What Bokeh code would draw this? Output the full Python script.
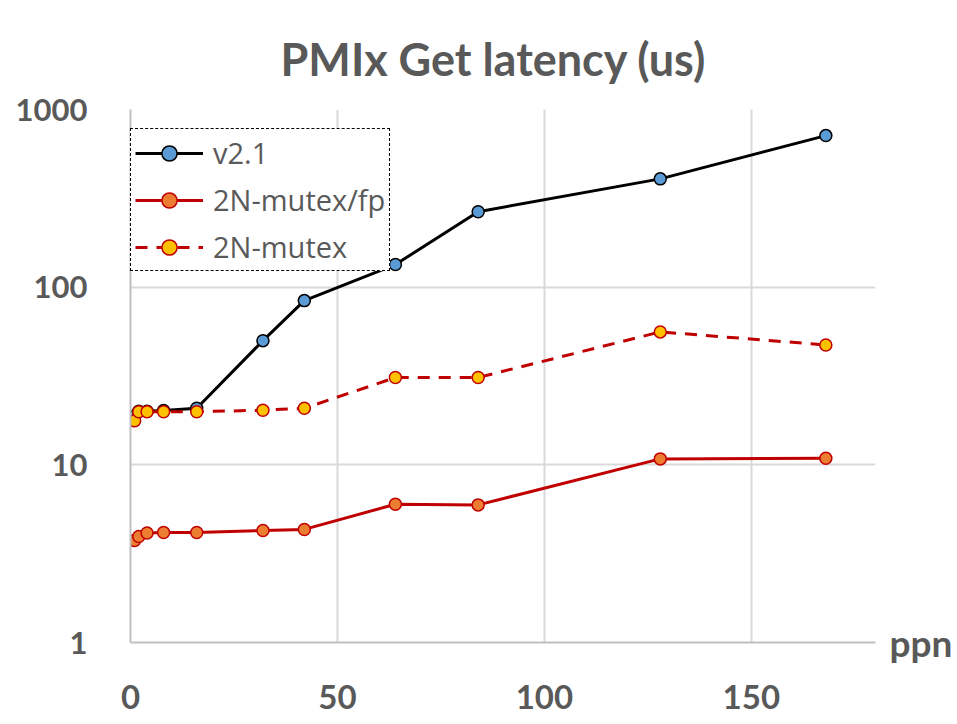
from bokeh.plotting import figure
from bokeh.models import Range1d, FixedTicker, NumeralTickFormatter, Legend, LegendItem, LogAxis
from bokeh.embed import file_html
from bokeh.resources import INLINE

ppn = [1, 2, 4, 8, 16, 32, 42, 64, 84, 128, 168]
v21 = [18.8, 20.0, 20.0, 20.2, 20.8, 50.0, 84.0, 134, 266, 407, 713]
mutex_fp = [3.75, 3.95, 4.13, 4.16, 4.16, 4.27, 4.33, 6.0, 5.95, 10.8, 10.9]
mutex = [17.7, 19.9, 19.9, 19.9, 19.9, 20.3, 20.8, 31.0, 31.0, 56.0, 47.3]

x_ticks = [0, 50, 100, 150]
y_ticks = [1, 10, 100, 1000]

FONT = "Lato"
LFONT = "Open Sans"
GRAY = "#595959"

p = figure(width=956, height=720, output_backend="svg", toolbar_location=None,
           y_axis_type="log", x_range=Range1d(0, 180), y_range=Range1d(1, 1000),
           min_border_left=130, min_border_right=81, min_border_top=109, min_border_bottom=78)

p.title.text = "PMIx Get latency (us)"
p.title.align = "left"
p.title.text_font = FONT
p.title.text_font_size = "45px"
p.title.text_font_style = "bold"
p.title.text_color = GRAY
p.title.standoff = 48
p.title.offset = 150

p.outline_line_color = None
p.background_fill_color = "white"

p.xaxis.ticker = FixedTicker(ticks=x_ticks)
p.yaxis.ticker = FixedTicker(ticks=y_ticks, minor_ticks=[])
p.yaxis.formatter = NumeralTickFormatter(format="0")
for ax in (p.xaxis, p.yaxis):
    ax.axis_line_color = "#bfbfbf"
    ax.axis_line_width = 2
    ax.major_tick_line_color = None
    ax.minor_tick_line_color = None
    ax.major_label_text_font = FONT
    ax.major_label_text_font_style = "bold"
    ax.major_label_text_color = GRAY
p.yaxis.major_label_text_font_size = "31px"
p.xaxis.major_label_text_font_size = "33px"
p.xaxis.major_label_standoff = 36
p.yaxis.major_label_standoff = 37

# "ppn" unit label at the right end of the x axis
right_axis = LogAxis(ticker=FixedTicker(ticks=[1], minor_ticks=[]),
                     major_label_overrides={1: "ppn"})
right_axis.axis_line_color = None
right_axis.major_tick_line_color = None
right_axis.minor_tick_line_color = None
right_axis.major_label_standoff = 8
right_axis.major_label_text_font = FONT
right_axis.major_label_text_font_size = "37px"
right_axis.major_label_text_font_style = "bold"
right_axis.major_label_text_color = GRAY
p.add_layout(right_axis, "right")

p.xgrid.ticker = FixedTicker(ticks=[50, 100, 150])
p.ygrid.ticker = FixedTicker(ticks=[10, 100, 1000])
p.grid.grid_line_color = "#d9d9d9"
p.grid.grid_line_width = 2

l1 = p.line(ppn, v21, line_color="black", line_width=3)
c1 = p.scatter(ppn, v21, size=12, fill_color="#5B9BD5", line_color="black", line_width=1.5)
l2 = p.line(ppn, mutex_fp, line_color="#C00000", line_width=3)
c2 = p.scatter(ppn, mutex_fp, size=12, fill_color="#ED7D31", line_color="#C00000", line_width=1.5)
l3 = p.line(ppn, mutex, line_color="#C00000", line_width=3, line_dash="12 9")
c3 = p.scatter(ppn, mutex, size=12, fill_color="#FFC000", line_color="#C00000", line_width=1.5)

legend = Legend(items=[
    LegendItem(label="v2.1", renderers=[l1, c1]),
    LegendItem(label="2N-mutex/fp", renderers=[l2, c2]),
    LegendItem(label="2N-mutex", renderers=[l3, c3]),
], location=(0, 371))
legend.border_line_color = "black"
legend.border_line_alpha = 1
legend.border_line_dash = "5 3"
legend.border_line_width = 1.5
legend.background_fill_alpha = 1
legend.label_text_font = LFONT
legend.label_text_font_size = "29px"
legend.label_text_color = GRAY
legend.glyph_width = 68
legend.glyph_height = 38
legend.label_height = 38
legend.spacing = 8
legend.padding = 4
legend.label_standoff = 10
legend.margin = 0
p.add_layout(legend, "center")

open("out.html", "w").write(file_html(p, INLINE))
